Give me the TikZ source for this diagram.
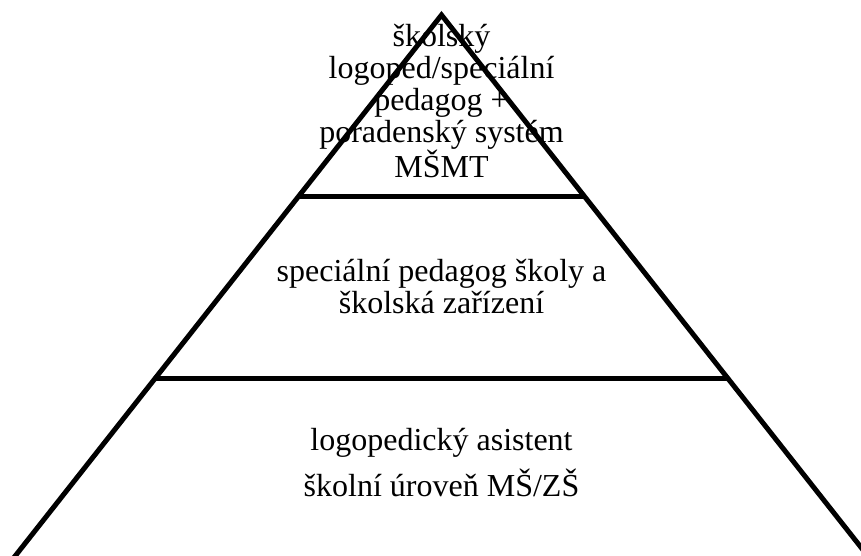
\documentclass[tikz,border=0pt]{standalone}
\usepackage{fontspec}
\setmainfont{Liberation Serif}
\begin{document}
\begin{tikzpicture}[x=1pt,y=1pt,
  edge/.style={line width=5pt, line join=miter},
  tierlabel/.style={align=center, font=\fontsize{32}{32}\selectfont, inner sep=0pt, anchor=base}]
\useasboundingbox (0,0) rectangle (861,555);
\clip (0,0) rectangle (861,555);
\coordinate (apex) at (441.5,540);
\coordinate (bl) at (0.2,-20);
\coordinate (br) at (882.8,-20);
\coordinate (l1) at (298.5,358.5);
\coordinate (r1) at (584.5,358.5);
\coordinate (l2) at (155.1,176.5);
\coordinate (r2) at (727.9,176.5);
\node[tierlabel] (top) at (441.5,377) {školský\\logoped/speciální\\pedagog +\\poradenský systém\\MŠMT};
\node[tierlabel] (mid) at (441.5,241.7) {speciální pedagog školy a\\školská zařízení};
\node[tierlabel] (bottom) at (441.5,59) {logopedický asistent\\[10pt]školní úroveň MŠ/ZŠ};
\draw[edge] (bl) -- (apex) -- (br);
\draw[edge] (l1) -- (r1);
\draw[edge] (l2) -- (r2);
\end{tikzpicture}
\end{document}
